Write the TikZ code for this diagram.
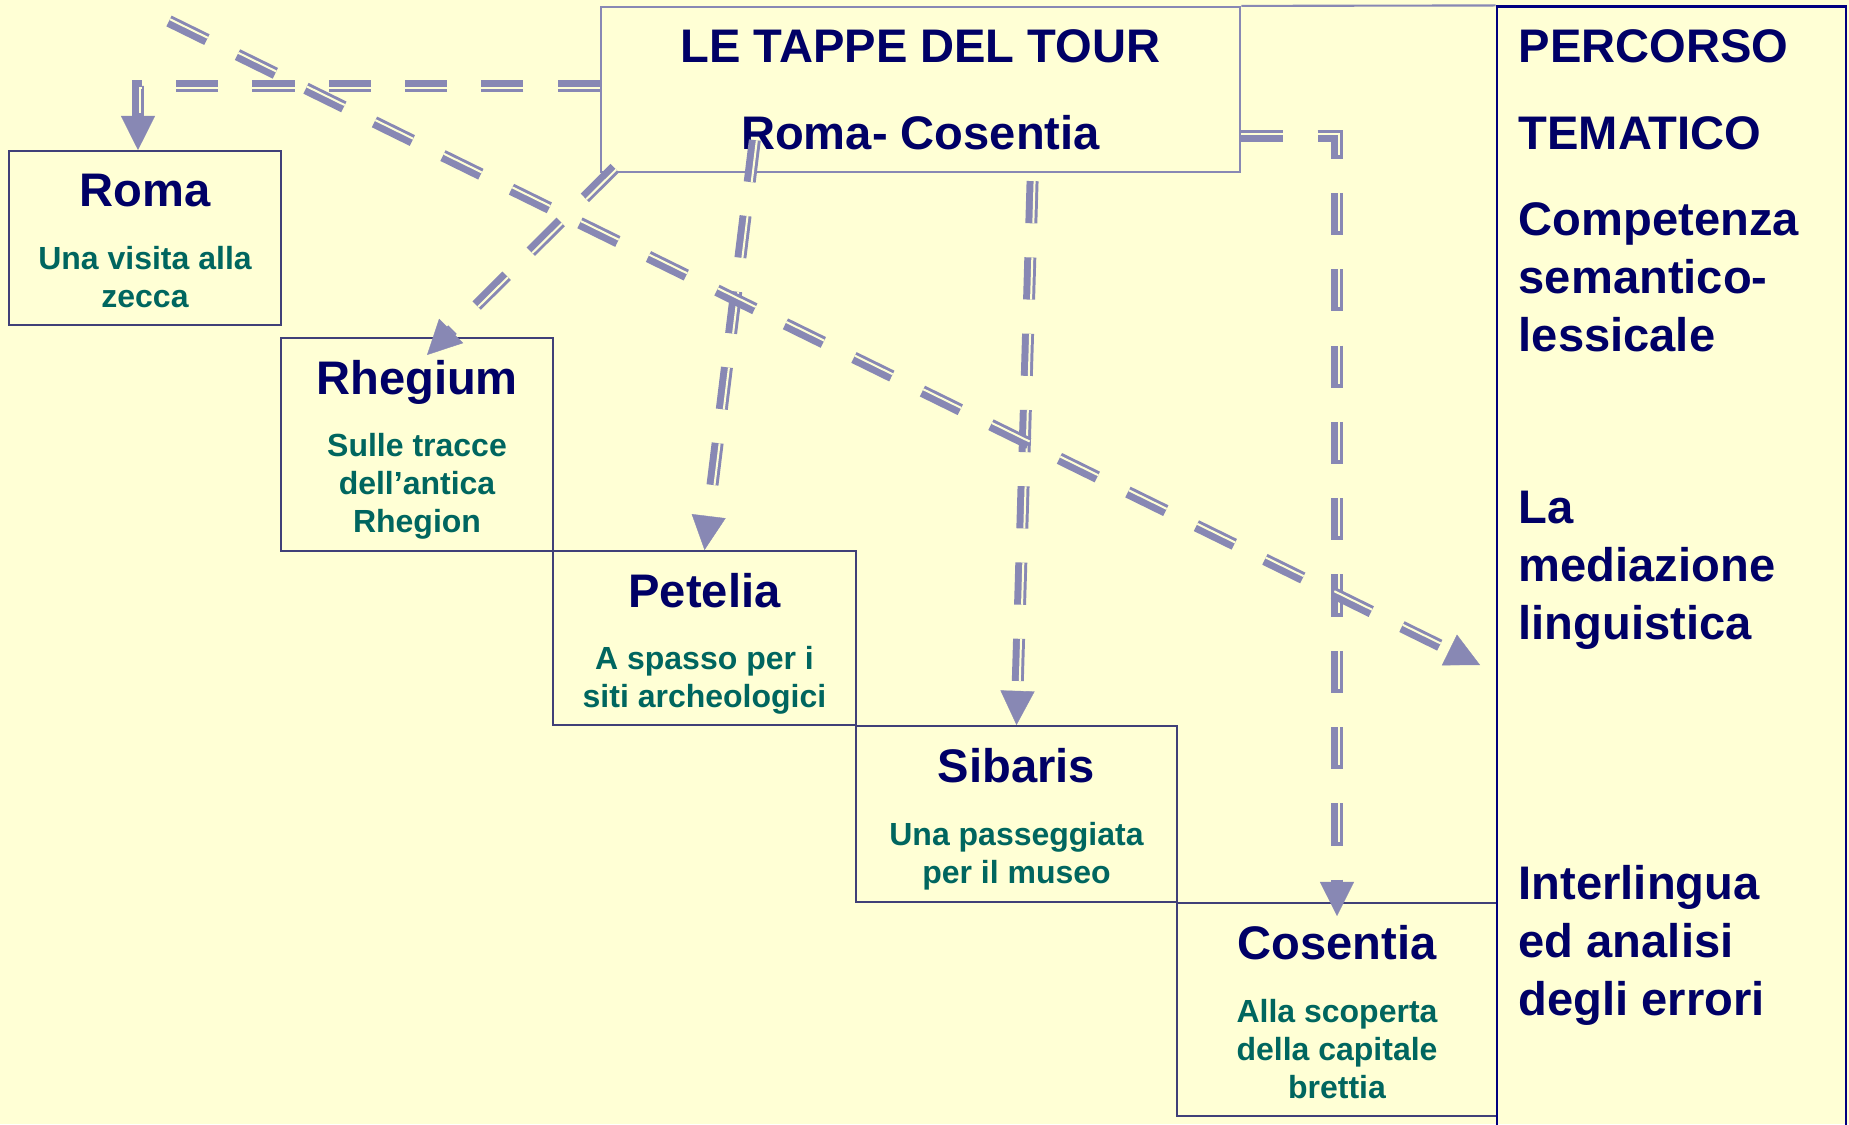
\documentclass[tikz,border=0pt]{standalone}
\usepackage{fontspec}
\setmainfont{Liberation Sans}
\usetikzlibrary{arrows.meta,calc}
\definecolor{paper}{HTML}{FFFFD5}
\definecolor{tourline}{HTML}{8888B4}
\definecolor{stageline}{HTML}{404078}
\definecolor{framenavy}{HTML}{000080}
\definecolor{titleblue}{HTML}{000066}
\definecolor{noteteal}{HTML}{00665F}
\tikzset{
  stage/.style={draw=stageline, line width=0.55pt, inner sep=0pt},
  theme/.style={draw=framenavy, line width=0.7pt, inner sep=0pt},
  head/.style={draw=tourline, line width=0.6pt, inner sep=0pt, align=center,
    text=titleblue, font=\fontsize{13.4}{24.7}\selectfont\bfseries},
  place/.style={anchor=north, inner sep=0pt, text=titleblue,
    font=\fontsize{13.4}{16}\selectfont\bfseries},
  note/.style={anchor=north, inner sep=0pt, align=center, text=noteteal,
    font=\fontsize{9.1}{10.8}\selectfont\bfseries},
  themetext/.style={anchor=north west, inner sep=0pt, align=left, text=titleblue,
    font=\fontsize{13.4}{16.5}\selectfont\bfseries},
  tour/.style={draw=tourline, line width=3.4pt, dash pattern=on 12pt off 9.7pt,
    -{Triangle[width=9.7pt,length=9.7pt,line width=0.1pt]}},
  tourgap/.style={draw=paper, line width=0.57pt, dash pattern=on 12pt off 9.7pt,
    shorten >=10.5pt}
}
\newcommand{\tourlink}[2]{%
  \draw[tour] (#1) -- (#2);
  \draw[tourgap] ($(#1)!0.57pt!90:(#2)$) -- ($(#2)!0.57pt!-90:(#1)$);}

\begin{document}
\begin{tikzpicture}[x=0.01cm,y=-0.01cm]
	\fill[paper] (0,0) rectangle (1849,1124);
	\useasboundingbox (0,0) rectangle (1849,1124);
	% le tappe
	\node[stage, minimum width=2.72cm, minimum height=1.74cm] (roma) at (145,238) {};
	\node[stage, minimum width=2.72cm, minimum height=2.13cm] (rhegium) at (417,444.5) {};
	\node[stage, minimum width=3.03cm, minimum height=1.74cm] (petelia) at (704.5,638) {};
	\node[stage, minimum width=3.21cm, minimum height=1.76cm] (sibaris) at (1016.5,814) {};
	\node[stage, minimum width=3.20cm, minimum height=2.13cm] (cosentia) at (1337,1009.5) {};
	\node[place] (romaT) at (145,173) {Roma};
	\node[note] (romaN) at (145,246) {Una visita alla\\zecca};
	\node[place] (rhegiumT) at (417,360) {Rhegium};
	\node[note] (rhegiumN) at (417,433) {Sulle tracce\\dell’antica\\Rhegion};
	\node[place] (peteliaT) at (704.5,573) {Petelia};
	\node[note] (peteliaN) at (704.5,646) {A spasso per i\\siti archeologici};
	\node[place] (sibarisT) at (1016.5,748) {Sibaris};
	\node[note] (sibarisN) at (1016.5,822) {Una passeggiata\\per il museo};
	\node[place] (cosentiaT) at (1337,925) {Cosentia};
	\node[note] (cosentiaN) at (1337,999) {Alla scoperta\\della capitale\\brettia};
	% titolo e percorso
	\node[head, minimum width=6.39cm, minimum height=1.65cm] (header) at (920.5,89.5) {LE TAPPE DEL TOUR\\Roma- Cosentia};
	\node[theme, minimum width=3.49cm, minimum height=11.33cm] (percorso) at (1671.5,573.5) {};
	\draw[tourline, line width=0.6pt] (header.north east) -- (percorso.north west);
	\node[themetext] (percorsoT) at (1518,29) {PERCORSO\\[0.29cm]TEMATICO};
	\node[themetext] (lessico) at (1518,202) {Competenza\\semantico-\\lessicale};
	\node[themetext] (mediazione) at (1518,490) {La\\mediazione\\linguistica};
	\node[themetext] (errori) at (1518,865) {Interlingua\\ed analisi\\degli errori};
	% collegamenti
	\draw[tour] ([yshift=0.035cm]header.west) -| ([xshift=-0.07cm]roma.north);
	\draw[tourgap] ([yshift=0.015cm]header.west) -| ([xshift=-0.05cm]roma.north);
	\coordinate (rhegiumS) at ([xshift=0.15cm,yshift=0.05cm]header.south west);
	\coordinate (rhegiumE) at ([xshift=0.1cm,yshift=-0.18cm]rhegium.north);
	\tourlink{rhegiumS}{rhegiumE}
	\coordinate (peteliaS) at ([xshift=1.55cm,yshift=0.33cm]header.south west);
	\tourlink{peteliaS}{petelia.north}
	\coordinate (sibarisS) at ([xshift=1.12cm,yshift=-0.08cm]header.south);
	\tourlink{sibarisS}{sibaris.north}
	\draw[tour] ([yshift=-0.465cm]header.east) -| ([yshift=-0.14cm]cosentia.north);
	\draw[tourgap] ([yshift=-0.445cm]header.east) -| ([xshift=0.02cm,yshift=-0.14cm]cosentia.north);
	\coordinate (diagS) at (169,21);
	\coordinate (diagE) at (1480,665);
	\tourlink{diagS}{diagE}
\end{tikzpicture}
\end{document}
